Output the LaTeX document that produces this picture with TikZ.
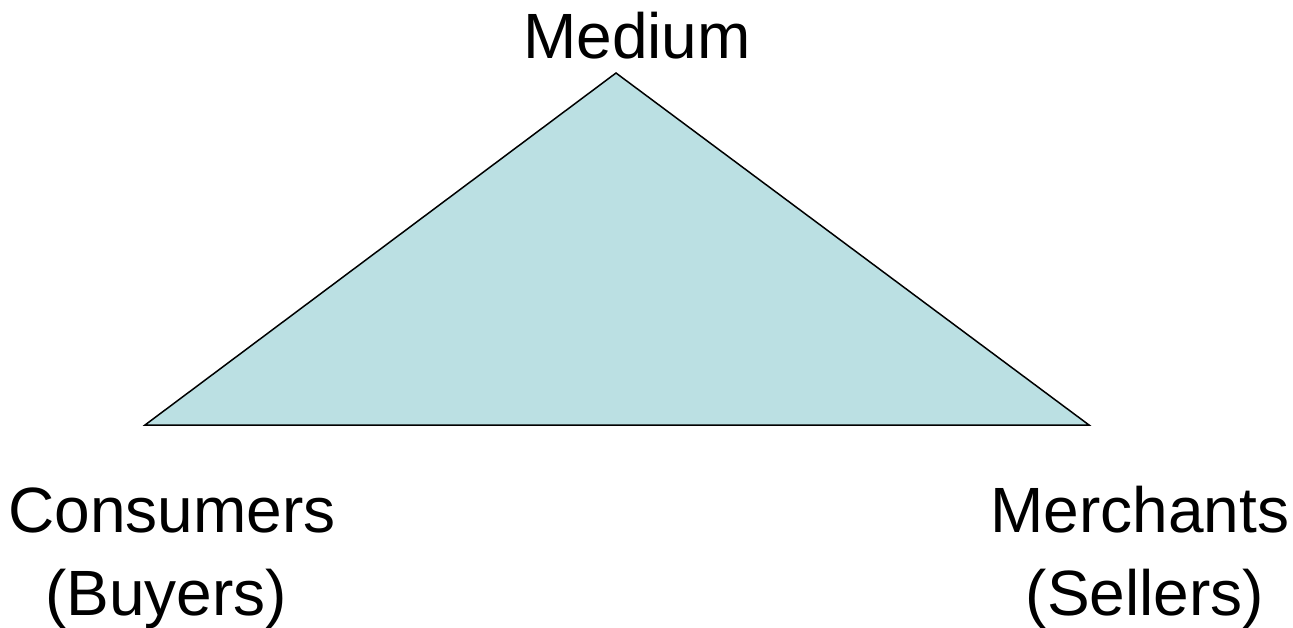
\documentclass[tikz,border=0pt]{standalone}
\usepackage{fontspec}
\setmainfont{Liberation Sans}
\definecolor{tri}{RGB}{187,224,227}

\begin{document}
\begin{tikzpicture}[x=1pt, y=-1pt]
				\tikzset{lbl/.style = {align=center, inner sep=0pt, font=\fontsize{64}{72}\selectfont}}
				\useasboundingbox (0,0) rectangle (1293,627);
				\foreach \a/\x/\y in {top/616/73, left/145/425, right/1089/425}{
					\coordinate (\a) at (\x,\y);
				}
				\filldraw[fill=tri, draw=black, line width=1.5pt, line join=miter] (top) -- (left) -- (right) -- cycle;
				\node[lbl, anchor=base] (medium) at (637,58) {Medium};
				\node[lbl, anchor=base] (cons) at (172,532) {Consumers};
				\node[lbl, anchor=base] (buy) at (166,615) {(Buyers)};
				\node[lbl, anchor=base] (merch) at (1140,532) {Merchants};
				\node[lbl, anchor=base] (sell) at (1145,615) {(Sellers)};
			\end{tikzpicture}
\end{document}
